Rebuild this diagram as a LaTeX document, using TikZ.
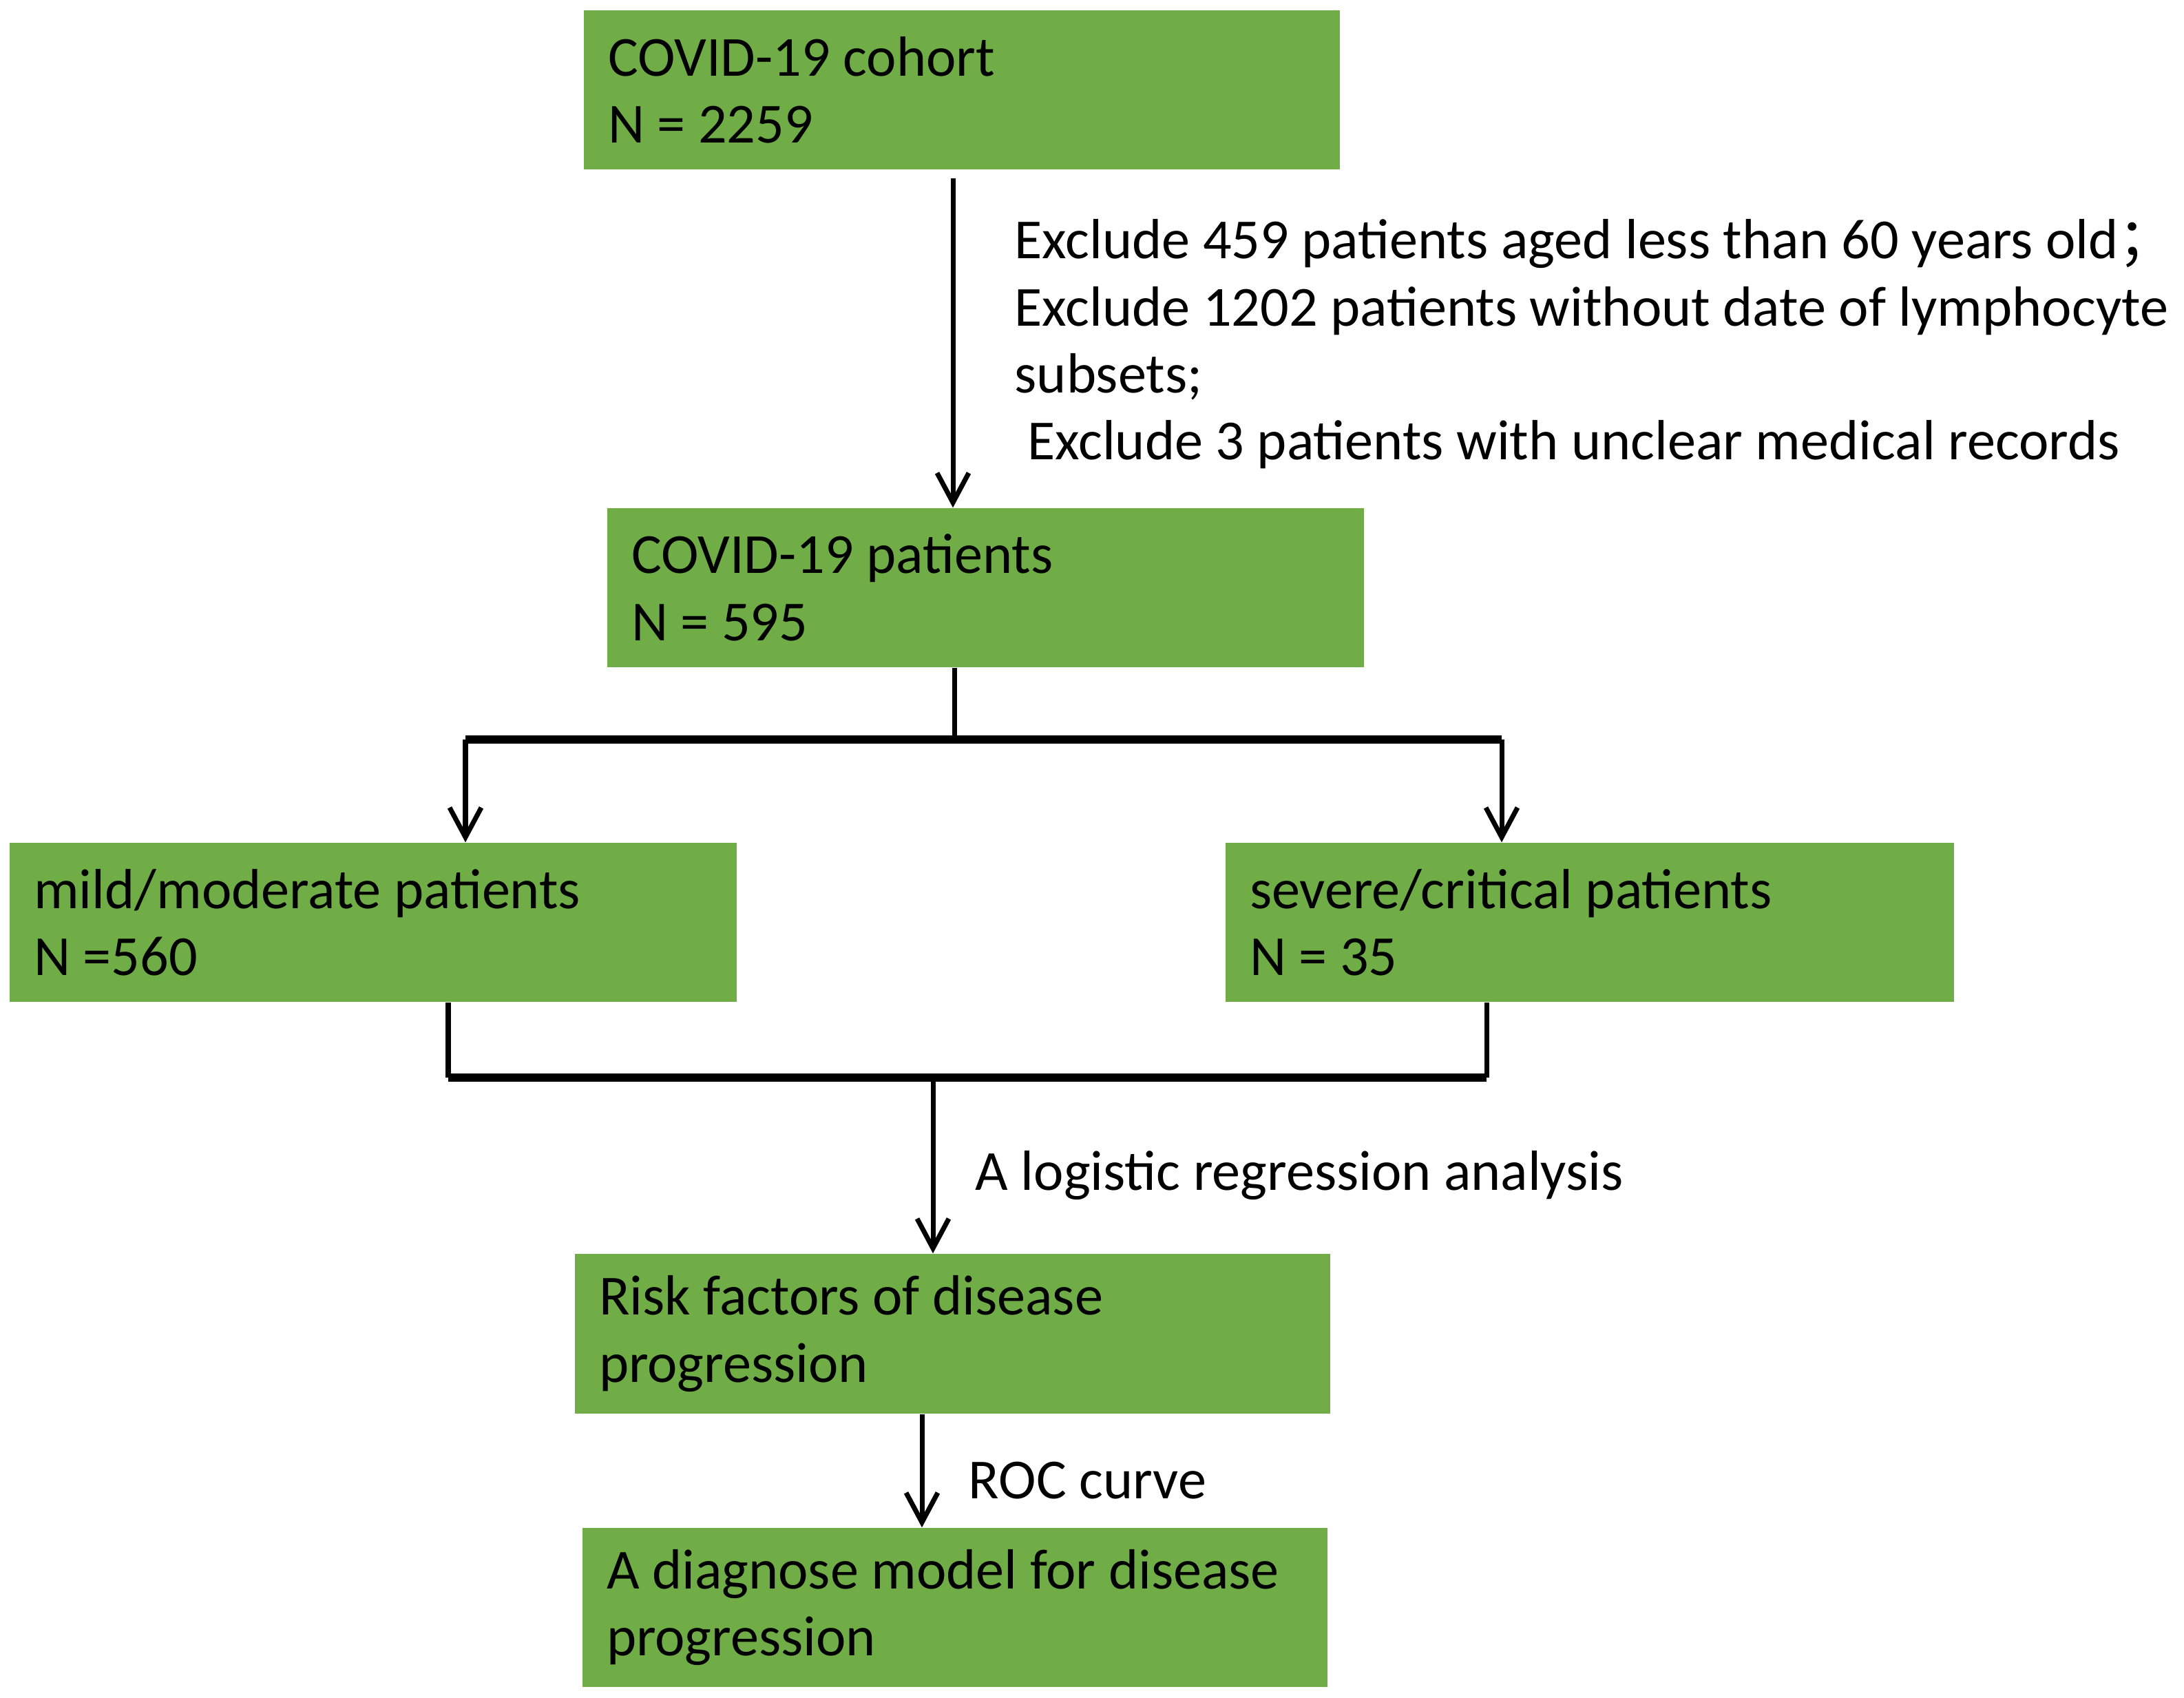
\documentclass[tikz,border=0pt]{standalone}
\usepackage{fontspec}
\setmainfont{Carlito}
\newfontfamily\cjk{Noto Sans CJK SC}
\usetikzlibrary{arrows.meta}
\definecolor{boxgreen}{HTML}{70AD47}

\begin{document}
\begin{tikzpicture}[every node/.style={font=\fontsize{23.4}{27.7}\selectfont}, box/.style={fill=boxgreen, align=flush left, inner xsep=0.35cm, inner ysep=0pt, minimum height=2.31cm}, vline/.style={line width=2pt}, hline/.style={line width=3.2pt}, arr/.style={line width=2pt, -{Straight Barb[length=0.43cm,width=0.46cm]}}]
\useasboundingbox (0,0) rectangle (31.72,-24.66);
\node[box, text width=10.28cm] (coh) at (13.97,-1.305) {COVID-19 cohort\\N = 2259};
\node[box, text width=10.29cm] (pat) at (14.315,-8.535) {COVID-19 patients\\N = 595};
\node[box, text width=9.86cm] (mild) at (5.42,-13.395) {mild/moderate patients\\N =560};
\node[box, text width=9.88cm] (sev) at (23.09,-13.395) {severe/critical patients\\N = 35};
\node[box, text width=10.27cm, minimum height=2.32cm] (risk) at (13.835,-19.37) {Risk factors of disease\\progression};
\node[box, text width=10.12cm] (diag) at (13.87,-23.345) {A diagnose model for disease\\progression};
\node[anchor=north west, inner sep=0pt, align=flush left] (excl) at (14.73,-3.18) {Exclude 459 patients aged less than 60 years old{\cjk ；}\\Exclude 1202 patients without date of lymphocyte\\subsets;\\~Exclude 3 patients with unclear medical records};
\node[anchor=west, inner sep=0pt] (logit) at (14.16,-17.07) {A logistic regression analysis};
\node[anchor=west, inner sep=0pt] (roc) at (14.06,-21.50) {ROC curve};
\coordinate (a1) at (13.84,-2.59);
\coordinate (split) at (13.86,-10.74);
\coordinate (lt) at (6.76,-10.74);
\coordinate (rt) at (21.81,-10.74);
\coordinate (ml) at (6.51,-15.65);
\coordinate (mr) at (21.59,-15.65);
\coordinate (mm) at (13.55,-15.65);
\coordinate (a5) at (13.39,-20.53);
\draw[arr] (a1) -- (a1 |- pat.north);
\draw[vline] (split |- pat.south) -- (split);
\draw[hline] (lt) -- (rt);
\draw[arr] (lt) -- (lt |- mild.north);
\draw[arr] (rt) -- (rt |- sev.north);
\draw[vline] (ml |- mild.south) -- (ml);
\draw[vline] (mr |- sev.south) -- (mr);
\draw[hline] (ml) -- (mr);
\draw[arr] (mm) -- (mm |- risk.north);
\draw[arr] (a5 |- risk.south) -- (a5 |- diag.north);
\end{tikzpicture}
\end{document}
